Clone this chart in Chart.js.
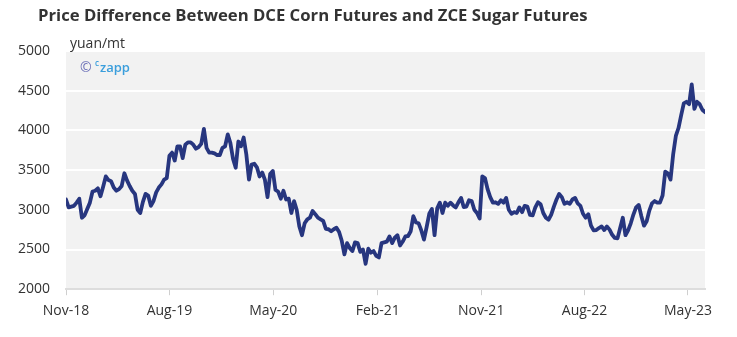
<!DOCTYPE html>
<html>
<head>
<meta charset="utf-8">
<title>Price Difference Between DCE Corn Futures and ZCE Sugar Futures</title>
<script src="https://cdn.jsdelivr.net/npm/chart.js@4.4.1/dist/chart.umd.min.js"></script>
<style>
  html, body { margin: 0; padding: 0; background: #fff; }
  #wrap { position: relative; width: 737px; height: 337px; }
</style>
</head>
<body>
<div id="wrap"><canvas id="spreadChart"></canvas></div>
<script>
// weekly readings, first one on 1 Nov 2018
const startDate = '2018-11-01';
const stepDays = 7;

const spread = [
    3130, 3030, 3040, 3050, 3090, 3140, 2900, 2930, 3010, 3090,
    3230, 3240, 3270, 3170, 3290, 3420, 3375, 3360, 3280, 3240,
    3260, 3300, 3460, 3370, 3300, 3240, 3200, 3000, 2960, 3100,
    3200, 3180, 3050, 3110, 3220, 3280, 3320, 3380, 3400, 3680,
    3720, 3620, 3800, 3800, 3650, 3820, 3850, 3850,
    3820, 3770, 3790, 3830, 4020, 3780, 3720, 3720, 3710, 3690,
    3690, 3780, 3800, 3950, 3840, 3640, 3530, 3860, 3800, 3910,
    3700, 3380, 3570, 3580, 3535, 3420, 3470, 3380, 3160, 3450,
    3490, 3250, 3230, 3140, 3240, 3130, 3140, 2960, 3110, 3000,
    2790, 2680, 2830, 2880, 2900, 2985, 2945, 2900, 2880,
    2860, 2760, 2755, 2730, 2755, 2775, 2720, 2610, 2440, 2580,
    2520, 2480, 2590, 2580, 2470, 2500, 2320, 2510, 2460, 2480,
    2420, 2400, 2580, 2590, 2600, 2665, 2580, 2650, 2680, 2550,
    2600, 2665, 2670, 2730, 2920, 2840, 2830, 2740, 2625, 2780,
    2950, 3010, 2680, 3020, 3090, 2960, 3090, 3050, 3090,
    3055, 3030, 3095, 3150, 3035, 3040, 3120, 3110, 3000, 2960,
    2890, 3420, 3400, 3260, 3160, 3090, 3095, 3075, 3120, 3090,
    3150, 3000, 2950, 2970, 2960, 3030, 2970, 3050, 3040, 2935,
    2930, 3030, 3095, 3070, 2960, 2900, 2875, 2940, 3040, 3130,
    3200, 3160, 3075, 3095, 3075, 3130, 3150, 3080, 3050,
    2950, 2900, 2945, 2800, 2740, 2745, 2770, 2790, 2745, 2790,
    2750, 2685, 2645, 2640, 2770, 2900, 2680, 2740, 2830, 2940,
    3030, 3060, 2920, 2800, 2855, 2990, 3080, 3110, 3090, 3090,
    3180, 3480, 3460, 3380, 3700, 3930, 4030, 4190, 4340, 4360,
    4330, 4580, 4270, 4360, 4330, 4260, 4230
];

const tickDates = ['2018-11-01', '2019-08-01', '2020-05-01', '2021-02-01', '2021-11-01', '2022-08-01', '2023-05-01'];
const tickLabels = ['Nov-18', 'Aug-19', 'May-20', 'Feb-21', 'Nov-21', 'Aug-22', 'May-23'];
const yTicks = [2000, 2500, 3000, 3500, 4000, 4500, 5000];

const chartTitle = 'Price Difference Between DCE Corn Futures and ZCE Sugar Futures';
const unitLabel = 'yuan/mt';

const DAY = 86400000;
const t0 = Date.parse(startDate);
const dayOf = d => Math.round((Date.parse(d) - t0) / DAY);

const points = spread.map((v, i) => ({ x: i * stepDays, y: v }));
const tickDays = tickDates.map(dayOf);
const lastDay = (spread.length - 1) * stepDays;

const FONT = "'Open Sans', 'Noto Sans', sans-serif";

// grey plot panel behind the line, plus title / unit / watermark
const decorations = {
    id: 'decorations',
    beforeDraw(chart) {
        const { ctx, chartArea: a } = chart;
        ctx.save();
        ctx.fillStyle = '#f2f2f2';
        ctx.fillRect(a.left, a.top, a.right - a.left, a.bottom - a.top);
        ctx.restore();
    },
    beforeDatasetsDraw(chart) {
        const { ctx, chartArea: a } = chart;
        ctx.save();
        ctx.textBaseline = 'middle';
        ctx.textAlign = 'left';

        ctx.fillStyle = '#333';
        ctx.font = 'bold 16.7px ' + FONT;
        ctx.fillText(chartTitle, 38, 16);

        ctx.font = '14px ' + FONT;
        ctx.fillText(unitLabel, a.left + 4, 44);

        // watermark
        ctx.fillStyle = '#6b6fb8';
        ctx.font = '14px ' + FONT;
        ctx.fillText('\u00A9', a.left + 14, 68);
        ctx.fillStyle = '#3a9edc';
        ctx.font = '600 8px ' + FONT;
        ctx.fillText('c', a.left + 29, 64);
        ctx.font = '600 13px ' + FONT;
        ctx.fillText('zapp', a.left + 34, 68);
        ctx.restore();
    }
};

function createChart(id, config) {
    const el = document.getElementById(id);
    if (!el) {
        console.error(`Canvas element with id '${id}' not found`);
        return;
    }
    if (el.chart) {
        el.chart.destroy();
    }
    el.chart = new Chart(el, config);
}

createChart('spreadChart', {
    type: 'line',
    data: {
        datasets: [{
            label: 'Price difference',
            data: points,
            borderColor: '#27367f',
            borderWidth: 3.8,
            borderJoinStyle: 'round',
            borderCapStyle: 'round',
            pointRadius: 0,
            tension: 0,
            fill: false,
        }]
    },
    options: {
        responsive: true,
        maintainAspectRatio: false,
        animation: false,
        layout: { padding: { top: 51, left: 2, right: 32, bottom: 11 } },
        plugins: {
            legend: { display: false },
            tooltip: { enabled: false },
        },
        scales: {
            x: {
                type: 'linear',
                min: 0,
                max: lastDay,
                afterBuildTicks: scale => {
                    scale.ticks = tickDays.map(v => ({ value: v }));
                },
                ticks: {
                    autoSkip: false,
                    maxRotation: 0,
                    padding: 7,
                    color: '#333',
                    font: { family: FONT, size: 14 },
                    callback: v => tickLabels[tickDays.indexOf(v)] || '',
                },
                grid: {
                    drawOnChartArea: false,
                    drawTicks: true,
                    tickLength: 6,
                    color: '#cfcfcf',
                },
                border: { display: true, color: '#dddddd', width: 2 },
            },
            y: {
                min: 2000,
                max: 5000,
                afterBuildTicks: scale => {
                    scale.ticks = yTicks.map(v => ({ value: v }));
                },
                ticks: {
                    padding: 16,
                    color: '#333',
                    font: { family: FONT, size: 14 },
                    callback: v => String(v),
                },
                grid: {
                    drawTicks: false,
                    color: '#ffffff',
                    lineWidth: 2,
                },
                border: { display: false },
            }
        }
    },
    plugins: [decorations]
});
</script>
</body>
</html>
